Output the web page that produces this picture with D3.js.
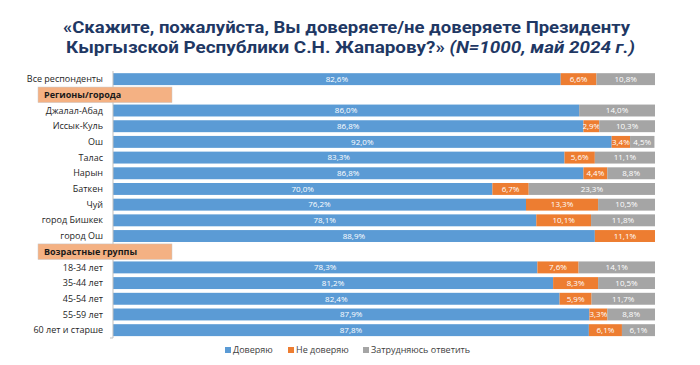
<!DOCTYPE html>
<html><head><meta charset="utf-8">
<script src="https://cdn.jsdelivr.net/npm/d3@7"></script>
<style>
html,body{margin:0;padding:0;background:#fff;}
svg{display:block;font-family:"Open Sans",sans-serif;}
</style></head>
<body>
<svg id="chart" width="700" height="365"></svg>
<script>
// ---- data ----
const categories = ["Все респонденты","Регионы/города","Джалал-Абад","Иссык-Куль","Ош","Талас","Нарын","Баткен","Чуй","город Бишкек","город Ош","Возрастные группы","18-34 лет","35-44 лет","45-54 лет","55-59 лет","60 лет и старше"];
const headerRows = ["Регионы/города","Возрастные группы"];
const trust =    [82.6, null, 86.0, 86.8, 92.0, 83.3, 86.8, 70.0, 76.2, 78.1, 88.9, null, 78.3, 81.2, 82.4, 87.9, 87.8];
const distrust = [6.6,  null, 0,    2.9,  3.4,  5.6,  4.4,  6.7, 13.3, 10.1, 11.1, null, 7.6,  8.3,  5.9,  3.3,  6.1];
const unsure =   [10.8, null, 14.0, 10.3, 4.5, 11.1,  8.8, 23.3, 10.5, 11.8, 0,    null, 14.1, 10.5, 11.7, 8.8,  6.1];
const seriesNames = ["Доверяю","Не доверяю","Затрудняюсь ответить"];
const seriesColors = ["#5B9BD5","#ED7D31","#A5A5A5"];
const titleLine1 = "«Скажите, пожалуйста, Вы доверяете/не доверяете Президенту";
const titleLine2a = "Кыргызской Республики С.Н. Жапарову?» ";
const titleLine2b = "(N=1000, май 2024 г.)";

const svg = d3.select("#chart");
const x = d3.scaleLinear().domain([0,100]).range([113,655]);
const y = d3.scaleBand().domain(categories).range([71.3,338]).paddingInner(0.24).paddingOuter(0.12);

// title
const tc = "#1F3864";
const t1 = svg.append("text").attr("x",63).attr("y",33).attr("fill",tc)
  .attr("font-family","Roboto, sans-serif")
  .attr("font-size",16).attr("font-weight","bold").text(titleLine1)
  .attr("textLength",567).attr("lengthAdjust","spacingAndGlyphs");
const t2 = svg.append("text").attr("x",66).attr("y",53).attr("fill",tc)
  .attr("font-family","Roboto, sans-serif")
  .attr("font-size",16).attr("font-weight","bold")
  .attr("textLength",569).attr("lengthAdjust","spacingAndGlyphs");
t2.append("tspan").text(titleLine2a);
t2.append("tspan").attr("font-style","italic").text(titleLine2b);

// rows data
const rows = categories.map((c,i)=>({cat:c, vals:[trust[i],distrust[i],unsure[i]]}));
const dataRows = rows.filter(r=>!headerRows.includes(r.cat));

// bars
dataRows.forEach(r=>{
  let cum = 0;
  r.vals.forEach((v,k)=>{
    if(!v) return;
    const x0 = x(cum), x1 = x(cum+v);
    svg.append("rect").attr("x",x0).attr("y",y(r.cat)).attr("width",x1-x0)
      .attr("height",y.bandwidth()).attr("fill",seriesColors[k]);
    svg.append("text").attr("x",(x0+x1)/2).attr("y",y(r.cat)+y.bandwidth()/2)
      .attr("dy","0.35em").attr("text-anchor","middle").attr("fill","#fff")
      .attr("font-size",8).text(d3.format(".1f")(v).replace(".",",")+"%");
    cum += v;
  });
  svg.append("text").attr("x",103).attr("y",y(r.cat)+y.bandwidth()/2).attr("dy","0.35em")
    .attr("text-anchor","end").attr("font-size",9).attr("fill","#262626").text(r.cat);
});

// axis line
svg.append("line").attr("x1",113).attr("x2",113).attr("y1",71).attr("y2",338)
  .attr("stroke","#BFBFBF").attr("stroke-width",1);
svg.append("line").attr("x1",110).attr("x2",113).attr("y1",338).attr("y2",338)
  .attr("stroke","#BFBFBF").attr("stroke-width",1);

// header boxes
headerRows.forEach(h=>{
  const cy = y(h)+y.bandwidth()/2;
  svg.append("rect").attr("x",38).attr("y",cy-7.8).attr("width",134).attr("height",15.6)
    .attr("fill","#F4B183").attr("stroke","#C9C9C9").attr("stroke-width",0.5);
  svg.append("text").attr("x",44).attr("y",cy).attr("dy","0.35em").attr("font-size",9)
    .attr("font-weight","bold").attr("fill","#1a1a1a").text(h);
});

// legend
const legX = [225,288,363];
seriesNames.forEach((n,k)=>{
  svg.append("rect").attr("x",legX[k]).attr("y",347).attr("width",6).attr("height",6).attr("fill",seriesColors[k]);
  svg.append("text").attr("x",legX[k]+8).attr("y",350).attr("dy","0.35em").attr("font-size",9)
    .attr("fill","#404040").text(n);
});
</script>
</body></html>
